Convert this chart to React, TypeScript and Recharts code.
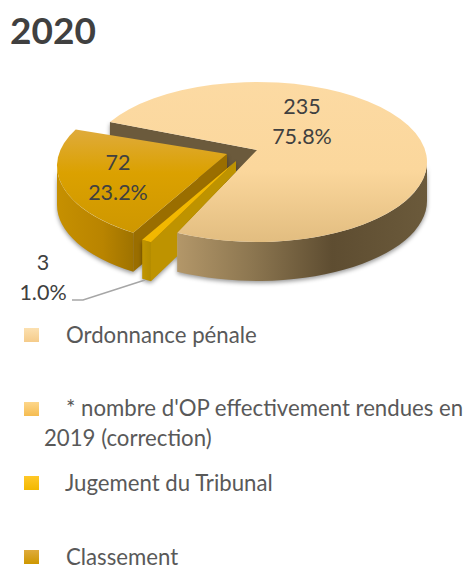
import { PieChart, Pie } from "recharts";

const sliceNames = ["Ordonnance pénale", "Classement", "Jugement du Tribunal", "* nombre d'OP effectivement rendues en 2019 (correction)"];
const sliceValues = [235, 72, 3, 0];
const data = sliceNames.map((name, i) => ({ name, value: sliceValues[i] }));

const W = 471;
const H = 567;
const SQUASH = 80 / 170;
const DEPTH = 39;
const APEX_LIFT = -12;
const MAIN_START = -120;
const MAIN_TRIM = [2, 3];
const TEXT = "#404040";
const FONT = "Lato, 'Open Sans', sans-serif";

const looks: Record<string, any> = {
  "Ordonnance pénale": {
    id: "main", dx: 0, dy: 0,
    top: [["0%", "#FCDAA3"], ["55%", "#FBD79C"], ["100%", "#E2BD80"]],
    wall: [["0%", "#B39769"], ["30%", "#8C7650"], ["62%", "#5E4D31"], ["100%", "#6B5A3B"]],
    cut: "#6B5A3C", label: [302, 106],
  },
  Classement: {
    id: "cls", dx: -30, dy: 4,
    top: [["0%", "#DFAB3C"], ["42%", "#DBA100"], ["100%", "#CE9700"]],
    wall: [["0%", "#C69000"], ["60%", "#B98400"], ["100%", "#9F7300"]],
    cut: "#9A6E00", label: [118, 162],
  },
  "Jugement du Tribunal": {
    id: "jug", dx: -21, dy: 11,
    top: [["0%", "#F2B800"], ["100%", "#F2B800"]],
    wall: [["0%", "#C19500"], ["100%", "#B48C00"]],
    cut: "#BE9300", label: [43, 262],
  },
};

function Stops({ list }: { list: string[][] }) {
  return (
    <>
      {list.map(([o, c]) => (
        <stop key={o} offset={o} stopColor={c} />
      ))}
    </>
  );
}

// elliptical slice with side walls, angles come from the Pie
function Slice3D(props: any) {
  const { cx, cy, outerRadius: r, startAngle, endAngle, name, payload } = props;
  const look = looks[name ?? payload?.name];
  if (!look) return null;
  const isMain = look.id === "main";
  const a0 = Math.min(startAngle, endAngle) + (isMain ? MAIN_TRIM[0] : 0);
  const a1 = Math.max(startAngle, endAngle) - (isMain ? MAIN_TRIM[1] : 0);
  const X = (a: number) => cx + look.dx + r * Math.cos((a * Math.PI) / 180);
  const Y = (a: number) => cy + look.dy - r * SQUASH * Math.sin((a * Math.PI) / 180);
  const ax = cx + look.dx;
  const ay = cy + look.dy + APEX_LIFT;
  const rx = r;
  const ry = r * SQUASH;
  const large = a1 - a0 > 180 ? 1 : 0;
  const topPath = `M${ax},${ay} L${X(a0)},${Y(a0)} A${rx},${ry} 0 ${large} 0 ${X(a1)},${Y(a1)} Z`;

  // outer wall: only the front half of the rim can be seen
  const walls: { s: number; e: number }[] = [];
  for (const [lo, hi] of [[-180, 0], [180, 360]]) {
    const s = Math.max(a0, lo);
    const e = Math.min(a1, hi);
    if (e > s) walls.push({ s, e });
  }

  // the big slice sits in front of the exploded walls
  const edge = ((MAIN_START + MAIN_TRIM[0]) * Math.PI) / 180;
  const mx = cx + r * Math.cos(edge);
  const my = cy - r * SQUASH * Math.sin(edge);
  const clip = `M0,0 L${cx},0 L${cx},${cy + APEX_LIFT} L${mx},${my} L${mx},${H} L0,${H} Z`;

  return (
    <g>
      <defs>
        <linearGradient id={`top-${look.id}`} x1="0" y1="0" x2="0" y2="1">
          <Stops list={look.top} />
        </linearGradient>
        <linearGradient id={`wall-${look.id}`} x1="0" y1="0" x2="1" y2="0">
          <Stops list={look.wall} />
        </linearGradient>
        <clipPath id={`clip-${look.id}`}>
          <path d={clip} />
        </clipPath>
      </defs>
      <g clipPath={isMain ? undefined : `url(#clip-${look.id})`}>
        <g style={{ filter: "drop-shadow(0 2px 2px rgba(0,0,0,0.4))" }}>
          {walls.map(({ s, e }) => (
            <path
              key={s}
              fill={`url(#wall-${look.id})`}
              d={`M${X(s)},${Y(s)} A${rx},${ry} 0 0 0 ${X(e)},${Y(e)} L${X(e)},${Y(e) + DEPTH} A${rx},${ry} 0 0 1 ${X(s)},${Y(s) + DEPTH} Z`}
            />
          ))}
          <path fill={look.cut} d={`M${ax},${ay} L${X(a1)},${Y(a1)} l0,${DEPTH} L${ax},${ay + DEPTH} Z`} />
        </g>
      </g>
      <path d={topPath} fill={`url(#top-${look.id})`} />
    </g>
  );
}

function SliceLabel(props: any) {
  const { name, value, percent } = props;
  const look = looks[name];
  if (!look || !value) return null;
  const [x, y] = look.label;
  const pct = `${(percent * 100).toFixed(1)}%`;
  return (
    <g>
      <text x={x} y={y + 8} textAnchor="middle" fontSize={21.5} fontFamily={FONT} fill={TEXT}>{value}</text>
      <text x={x} y={y + 38} textAnchor="middle" fontSize={21.5} fontFamily={FONT} fill={TEXT}>{pct}</text>
      {look.id === "jug" && <polyline points="72,300 83,300 145,280" fill="none" stroke="#A6A6A6" strokeWidth={1.5} />}
    </g>
  );
}

const legendItems = [
  { lines: ["Ordonnance pénale"], from: "#FCE0B0", to: "#F5CB8A", y: 328, tx: 66, ty: 335 },
  { lines: ["* nombre d'OP effectivement rendues en", "2019 (correction)"], from: "#FDD68A", to: "#F5BC50", y: 402, tx: 66, ty: 408 },
  { lines: ["Jugement du Tribunal"], from: "#FFC828", to: "#F2B800", y: 476, tx: 65, ty: 483 },
  { lines: ["Classement"], from: "#DFAB3C", to: "#CE9700", y: 550, tx: 66, ty: 557 },
];

function ChartLegend() {
  return (
    <>
      {legendItems.map((item) => (
        <div key={item.y}>
          <div
            style={{
              position: "absolute",
              left: 24,
              top: item.y,
              width: 15,
              height: 14,
              background: `linear-gradient(${item.from}, ${item.to})`,
            }}
          />
          {item.lines.map((line, i) => (
            <div
              key={line}
              style={{
                position: "absolute",
                left: i === 0 ? item.tx : 44,
                top: item.ty - 9 + i * 30,
                height: 18,
                lineHeight: "18px",
                fontFamily: FONT,
                fontSize: 22.2,
                color: "#595959",
                whiteSpace: "nowrap",
              }}
            >
              {line}
            </div>
          ))}
        </div>
      ))}
    </>
  );
}

export default function App() {
  return (
    <div style={{ position: "absolute", left: 0, top: 0, width: W, height: H, background: "#fff" }}>
      <div style={{ position: "absolute", left: 10, top: 8, fontFamily: FONT, fontWeight: 700, fontSize: 37, lineHeight: "44px", color: TEXT }}>
        2020
      </div>
      <PieChart width={W} height={H} margin={{ top: 0, right: 0, bottom: 0, left: 0 }} style={{ position: "absolute", left: 0, top: 0 }}>
        <Pie
          data={data}
          dataKey="value"
          nameKey="name"
          cx={257}
          cy={162}
          innerRadius={0}
          outerRadius={170}
          startAngle={MAIN_START}
          endAngle={MAIN_START + 360}
          stroke="none"
          shape={Slice3D}
          label={SliceLabel}
          labelLine={false}
          isAnimationActive={false}
        />
      </PieChart>
      <ChartLegend />
    </div>
  );
}
